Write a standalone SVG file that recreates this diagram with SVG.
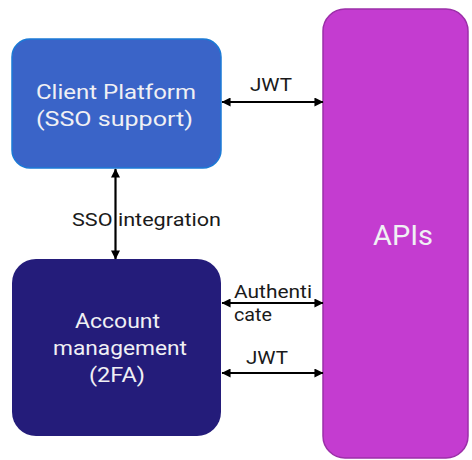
<svg xmlns="http://www.w3.org/2000/svg" width="472" height="460" viewBox="0 0 472 460">
  <defs>
    <marker id="arrow" viewBox="0 0 10 10" refX="9.5" refY="5" markerWidth="10" markerHeight="9" markerUnits="userSpaceOnUse" orient="auto-start-reverse">
      <path d="M0,0 L10,5 L0,10 Z" fill="#000"/>
    </marker>
  </defs>
  <style>
    .node-text { font-family: Roboto, "Liberation Sans", sans-serif; fill: #f0f0f4; }
    .label { font-family: Roboto, "Liberation Sans", sans-serif; font-size: 19px; fill: #1a1a1a; }
    .conn { stroke: #000; stroke-width: 2.2; fill: none; marker-start: url(#arrow); marker-end: url(#arrow); }
  </style>
  <rect width="472" height="460" fill="#fff"/>

  <g id="client-platform">
    <rect x="12" y="39" width="209" height="129" rx="18" fill="#3a64c8" stroke="#1b7ad6" stroke-width="1.5"/>
    <text class="node-text" x="36" y="99" font-size="20" textLength="160" lengthAdjust="spacingAndGlyphs">Client Platform</text>
    <text class="node-text" x="36" y="126" font-size="20" textLength="157" lengthAdjust="spacingAndGlyphs">(SSO support)</text>
  </g>

  <g id="account-management">
    <rect x="12" y="259" width="209" height="177" rx="24" fill="#241c7a"/>
    <text class="node-text" x="75" y="328" font-size="20" textLength="85" lengthAdjust="spacingAndGlyphs">Account</text>
    <text class="node-text" x="53" y="355" font-size="20" textLength="134" lengthAdjust="spacingAndGlyphs">management</text>
    <text class="node-text" x="89" y="382" font-size="20" textLength="56" lengthAdjust="spacingAndGlyphs">(2FA)</text>
  </g>

  <g id="apis">
    <rect x="323" y="9" width="145" height="449" rx="22" fill="#c43cd0" stroke="#9c2fa9" stroke-width="1.5"/>
    <text class="node-text" x="373" y="245" font-size="28" textLength="60" lengthAdjust="spacingAndGlyphs">APIs</text>
  </g>

  <g id="connectors">
    <line class="conn" x1="222" y1="102" x2="323" y2="102"/>
    <line class="conn" x1="115.5" y1="169" x2="115.5" y2="259"/>
    <line class="conn" x1="222" y1="303" x2="323" y2="303"/>
    <line class="conn" x1="222" y1="373" x2="323" y2="373"/>
    <text class="label" x="250" y="91" textLength="42" lengthAdjust="spacingAndGlyphs">JWT</text>
    <text class="label" x="72" y="226" textLength="149" lengthAdjust="spacingAndGlyphs">SSO integration</text>
    <text class="label" x="234" y="298" textLength="78" lengthAdjust="spacingAndGlyphs">Authenti</text>
    <text class="label" x="234" y="321" textLength="38" lengthAdjust="spacingAndGlyphs">cate</text>
    <text class="label" x="246" y="364" textLength="42" lengthAdjust="spacingAndGlyphs">JWT</text>
  </g>
</svg>
